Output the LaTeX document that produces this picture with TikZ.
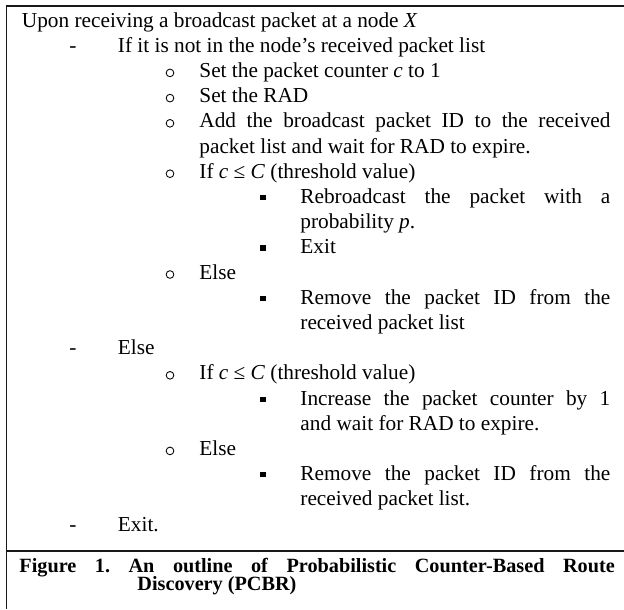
\documentclass[tikz,border=0pt]{standalone}
\usepackage{fontspec}
\setmainfont{Liberation Serif}
\usepackage{tikz}
\frenchspacing

\newcommand{\jline}[2]{\makebox[#1][s]{#2}}

\begin{document}
\begin{tikzpicture}[x=0.4695pt, y=-0.4695pt]
% Define styles
\tikzstyle{border} = [line width=0.85pt, black!90]
\tikzstyle{txt} = [anchor=base west, inner sep=0pt, font=\fontsize{10}{12}\selectfont]
\tikzstyle{captxt} = [anchor=base west, inner sep=0pt, font=\fontsize{9.5}{11}\selectfont\bfseries]
\tikzstyle{dashbul} = [anchor=base, inner sep=0pt, font=\fontsize{10}{12}\selectfont]
\tikzstyle{circbul} = [circle, draw, line width=0.4pt, inner sep=0pt, minimum size=3.6pt]
\tikzstyle{sqbul} = [rectangle, fill=black, inner sep=0pt, minimum size=2.5pt]
\useasboundingbox (0,0) rectangle (624,609);
% Frame
\coordinate (tr) at (624,6);
\coordinate (tl) at (6.5,6);
\coordinate (bl) at (6.5,609);
\coordinate (sl) at (6.5,551);
\coordinate (sr) at (624,551);
\draw [border] (tr) -- (tl) -- (bl);
\draw [border] (sl) -- (sr);
% Place nodes
\node (l1) [txt] at (21.5,27) {Upon receiving a broadcast packet at a node \textit{X}};
\node (d2) [dashbul] at (73,52.2) {-};
\node (l2) [txt] at (117.5,52.2) {If it is not in the node’s received packet list};
\node (o3) [circbul] at (170,72.9) {};
\node (l3) [txt] at (199,77.4) {Set the packet counter \textit{c} to 1};
\node (o4) [circbul] at (170,98.1) {};
\node (l4) [txt] at (199,102.6) {Set the RAD};
\node (o5) [circbul] at (170,123.3) {};
\node (l5) [txt] at (199,127.8) {\jline{193pt}{Add the broadcast packet ID to the received}};
\node (l6) [txt] at (199,153) {packet list and wait for RAD to expire.};
\node (o7) [circbul] at (170,173.7) {};
\node (l7) [txt] at (199,178.2) {If \textit{c} ≤ \textit{C} (threshold value)};
\node (s8) [sqbul] at (263,197.6) {};
\node (l8) [txt] at (300,203.4) {\jline{145.5pt}{Rebroadcast the packet with a}};
\node (l9) [txt] at (300,228.6) {probability \textit{p}.};
\node (s10) [sqbul] at (263,248) {};
\node (l10) [txt] at (300,253.8) {Exit};
\node (o11) [circbul] at (170,274.5) {};
\node (l11) [txt] at (199,279) {Else};
\node (s12) [sqbul] at (263,298.4) {};
\node (l12) [txt] at (300,304.2) {\jline{145.5pt}{Remove the packet ID from the}};
\node (l13) [txt] at (300,329.4) {received packet list};
\node (d14) [dashbul] at (73,354.6) {-};
\node (l14) [txt] at (117.5,354.6) {Else};
\node (o15) [circbul] at (170,375.3) {};
\node (l15) [txt] at (199,379.8) {If \textit{c} ≤ \textit{C} (threshold value)};
\node (s16) [sqbul] at (263,399.2) {};
\node (l16) [txt] at (300,405) {\jline{145.5pt}{Increase the packet counter by 1}};
\node (l17) [txt] at (300,430.2) {and wait for RAD to expire.};
\node (o18) [circbul] at (170,450.9) {};
\node (l18) [txt] at (199,455.4) {Else};
\node (s19) [sqbul] at (263,474.8) {};
\node (l19) [txt] at (300,480.6) {\jline{145.5pt}{Remove the packet ID from the}};
\node (l20) [txt] at (300,505.8) {received packet list.};
\node (d21) [dashbul] at (73,531) {-};
\node (l21) [txt] at (117.5,531) {Exit.};
% Caption
\node (c1) [captxt] at (19,572) {\jline{279.5pt}{Figure 1. An outline of Probabilistic Counter-Based Route}};
\node (c2) [captxt] at (137,590) {Discovery (PCBR)};
\end{tikzpicture}
\end{document}
